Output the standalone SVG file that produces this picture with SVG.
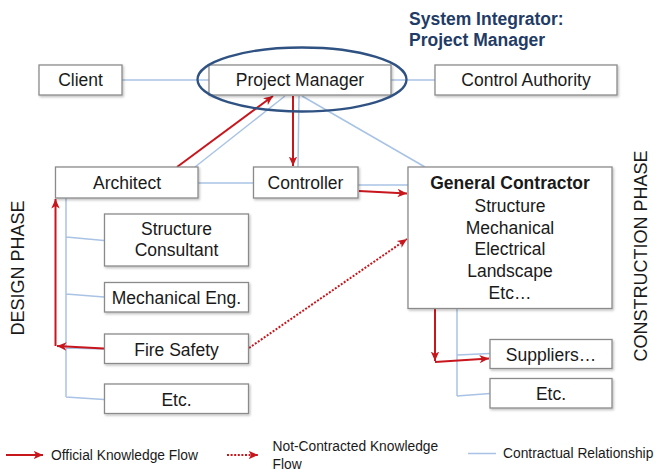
<svg xmlns="http://www.w3.org/2000/svg" width="655" height="472" viewBox="0 0 655 472">
<defs>
<marker id="ar" markerUnits="userSpaceOnUse" markerWidth="11" markerHeight="11" refX="9.5" refY="5" orient="auto">
<path d="M0,0.8 L9.5,5 L0,9.2 L2.6,5 z" fill="#c8161d"/>
</marker>
<filter id="sh" x="-10%" y="-10%" width="120%" height="130%">
<feDropShadow dx="1.2" dy="1.5" stdDeviation="0.8" flood-color="#000" flood-opacity="0.25"/>
</filter>
<style>
.box{fill:#fff;stroke:#8a8a8a;stroke-width:1.3;filter:url(#sh)}
.t{font-family:"Liberation Sans",Arial,sans-serif;font-size:17.5px;fill:#1a1a1a;text-anchor:middle}
.b{font-weight:bold}
.blue{fill:none;stroke:#a9c3e5;stroke-width:1.5}
.red{fill:none;stroke:#c8161d;stroke-width:2;marker-end:url(#ar)}
.dot{fill:none;stroke:#c8161d;stroke-width:2;stroke-dasharray:2 1.6;marker-end:url(#ar)}
.lg{font-family:"Liberation Sans",Arial,sans-serif;font-size:13.8px;fill:#1a1a1a}
.ph{font-family:"Liberation Sans",Arial,sans-serif;font-size:18px;fill:#1a1a1a;text-anchor:middle}
</style>
</defs>
<rect width="655" height="472" fill="#fff"/>

<g id="connectors">
<path class="blue" d="M122,80 H209"/>
<path class="blue" d="M391,80 H435"/>
<path class="blue" d="M285,96 L195,167"/>
<path class="blue" d="M299,96 L298,167"/>
<path class="blue" d="M302,96 L425,167"/>
<path class="blue" d="M198,183 H253"/>
<path class="blue" d="M358,185 H408"/>
<path class="blue" d="M66,198 V397 M66,237 L104,240.5 M66,294 L104,297 M66,348 L104,349 M66,397 L104,399.5"/>
<path class="blue" d="M457,309 V396 M457,355 L490,353.5 M457,396 L490,393.5"/>
<path class="red" d="M177,167 L273,96"/>
<path class="red" d="M293,96 L293,166"/>
<path class="red" d="M359,191 L407,193.5"/>
<path class="red" d="M104,348.5 L57,346"/>
<path class="red" d="M55.5,346 V199"/>
<path class="red" d="M435,309 V361"/>
<path class="red" d="M435,362 L489,358.5"/>
<path class="dot" d="M249,348 L407,239"/>
</g>

<g id="title">
<text x="409" y="25" font-family="Liberation Sans,Arial,sans-serif" font-size="17.5" font-weight="bold" fill="#1f3c66">System Integrator:</text>
<text x="409" y="46" font-family="Liberation Sans,Arial,sans-serif" font-size="17.5" font-weight="bold" fill="#1f3c66">Project Manager</text>
</g>

<g id="client"><rect class="box" x="39" y="65" width="83" height="30"/><text class="t" x="80.5" y="86">Client</text></g>
<g id="project-manager"><rect class="box" x="209" y="65" width="182" height="30"/><text class="t" x="300" y="86">Project Manager</text>
<ellipse cx="302" cy="79.5" rx="104.5" ry="32" fill="none" stroke="#2f5283" stroke-width="2.3"/></g>
<g id="control-authority"><rect class="box" x="435" y="65" width="182" height="30"/><text class="t" x="526" y="86">Control Authority</text></g>
<g id="architect"><rect class="box" x="55.5" y="167" width="142.5" height="31"/><text class="t" x="127" y="189">Architect</text></g>
<g id="controller"><rect class="box" x="253.5" y="167" width="104.5" height="31"/><text class="t" x="305.5" y="189">Controller</text></g>
<g id="general-contractor"><rect class="box" x="408" y="167" width="204" height="141.5"/>
<text class="t b" x="510" y="188.5">General Contractor</text>
<text class="t" x="510" y="211.5">Structure</text>
<text class="t" x="510" y="233.5">Mechanical</text>
<text class="t" x="510" y="255">Electrical</text>
<text class="t" x="510" y="277">Landscape</text>
<text class="t" x="510" y="299">Etc…</text></g>
<g id="structure-consultant"><rect class="box" x="104.5" y="214" width="144" height="52"/><text class="t" x="176.5" y="234.5">Structure</text><text class="t" x="176.5" y="256">Consultant</text></g>
<g id="mechanical-eng"><rect class="box" x="104.5" y="282.5" width="144" height="29.5"/><text class="t" x="176.5" y="304">Mechanical Eng.</text></g>
<g id="fire-safety"><rect class="box" x="104.5" y="334" width="144" height="29.5"/><text class="t" x="176.5" y="355.5">Fire Safety</text></g>
<g id="etc-design"><rect class="box" x="104.5" y="384" width="144" height="29.5"/><text class="t" x="176.5" y="405.5">Etc.</text></g>
<g id="suppliers"><rect class="box" x="490" y="339.5" width="122" height="29"/><text class="t" x="551" y="360.5">Suppliers…</text></g>
<g id="etc-construction"><rect class="box" x="490" y="378.5" width="122" height="29.5"/><text class="t" x="551" y="400">Etc.</text></g>

<g id="phases">
<text class="ph" transform="translate(24,268) rotate(-90)">DESIGN PHASE</text>
<text class="ph" transform="translate(647,256) rotate(-90)">CONSTRUCTION PHASE</text>
</g>

<g id="legend">
<path class="red" d="M6,455 H43"/>
<text class="lg" x="51" y="459.5">Official Knowledge Flow</text>
<path class="dot" d="M227,455 H258"/>
<text class="lg" x="272.5" y="451">Not-Contracted Knowledge</text>
<text class="lg" x="272.5" y="469">Flow</text>
<path class="blue" d="M468,453.5 H496"/>
<text class="lg" x="503" y="458">Contractual Relationship</text>
</g>
</svg>
